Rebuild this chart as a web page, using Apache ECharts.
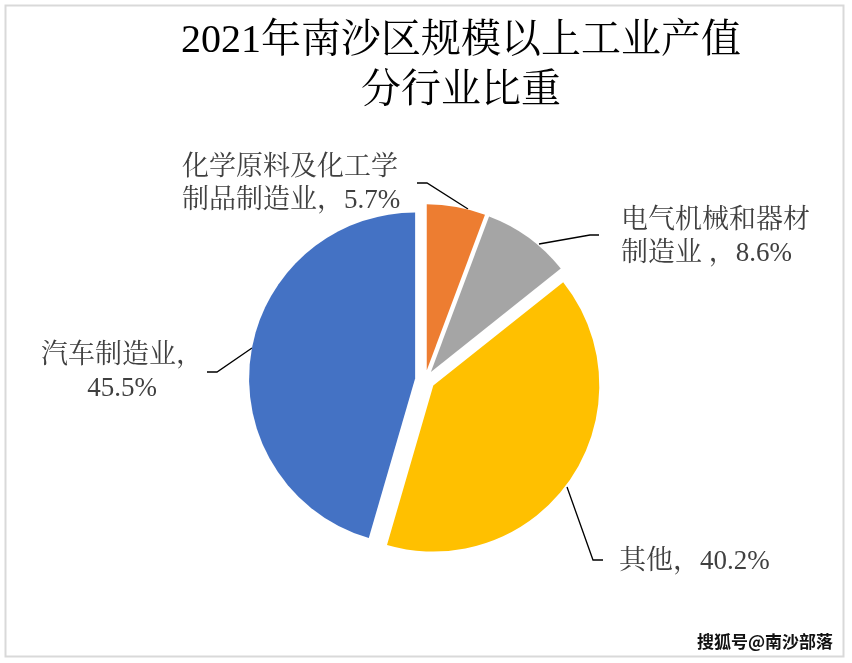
<!DOCTYPE html>
<html>
<head>
<meta charset="utf-8">
<title>2021年南沙区规模以上工业产值分行业比重</title>
<script src="https://cdn.jsdelivr.net/npm/echarts@6/dist/echarts.min.js"></script>
<style>
  html, body { margin: 0; padding: 0; background: #fff; }
  #main { width: 852px; height: 663px; }
</style>
</head>
<body>
<div id="main"></div>
<script>
// 数据
const categories = ['化学原料及化工学制品制造业', '电气机械和器材制造业', '其他', '汽车制造业'];
const labelNames = ['化学原料及化工学\n制品制造业', '电气机械和器材\n制造业 ', '其他', '汽车制造业'];
const shares = [5.7, 8.6, 40.2, 45.5];
const colors = ['#ED7D31', '#A5A5A5', '#FFC000', '#4472C4'];

const serif = '"Liberation Serif", "Noto Serif CJK SC", "Noto Sans CJK SC", serif';

// 标签位置与引导线（手工摆放，和 Excel 原图一致）
const labelLayouts = [
  { x: 182, y: 184, align: 'left', line: [[468, 209], [427, 183], [417, 183]] },
  { x: 621, y: 237, align: 'left', line: [[539, 244], [590, 235], [599, 235]] },
  { x: 619, y: 562, align: 'left', line: [[567, 487], [593, 560], [603, 560]] },
  { x: 122, y: 372, align: 'center', line: [[252, 348], [217, 372], [207, 372]] }
];

function labelText(i) {
  const sep = i === 3 ? '，\n' : '，';
  return labelNames[i] + sep + shares[i] + '%';
}

const chart = echarts.init(document.getElementById('main'));

const pieData = categories.map((name, i) => ({
  name: name,
  value: shares[i],
  selected: true,
  itemStyle: { color: colors[i] }
}));

// 标签文字和引导线
const labelGraphics = [];
labelLayouts.forEach((l, i) => {
  labelGraphics.push({
    type: 'polyline',
    shape: { points: l.line },
    style: { fill: 'none', stroke: '#000', lineWidth: 1.3 },
    silent: true
  });
  labelGraphics.push({
    type: 'text',
    x: l.x,
    y: l.y,
    style: {
      text: labelText(i),
      font: '27px ' + serif,
      lineHeight: 33,
      fill: '#404040',
      align: l.align,
      verticalAlign: 'middle'
    },
    silent: true
  });
});

chart.setOption({
  backgroundColor: '#fff',
  animation: false,
  title: {
    text: '2021年南沙区规模以上工业产值\n分行业比重',
    left: 461,
    top: 16,
    textAlign: 'center',
    padding: 0,
    textStyle: {
      fontFamily: serif,
      fontSize: 40,
      lineHeight: 50,
      fontWeight: 'normal',
      color: '#000'
    }
  },
  graphic: [
    {
      type: 'rect',
      shape: { x: 5.5, y: 5.5, width: 838, height: 651 },
      style: { fill: 'none', stroke: '#d9d9d9', lineWidth: 2 },
      silent: true
    },
    {
      type: 'text',
      right: 18,
      top: 632,
      style: {
        text: '搜狐号@南沙部落',
        font: 'bold 17px "Noto Sans CJK SC", sans-serif',
        fill: '#111',
        stroke: '#fff',
        lineWidth: 2
      },
      silent: true
    }
  ].concat(labelGraphics),
  series: [
    {
      type: 'pie',
      center: [425, 380],
      radius: 166,
      startAngle: 90,
      clockwise: true,
      selectedMode: 'multiple',
      selectedOffset: 10,
      emphasis: { disabled: true },
      label: { show: false },
      labelLine: { show: false },
      data: pieData
    }
  ]
});
</script>
</body>
</html>
